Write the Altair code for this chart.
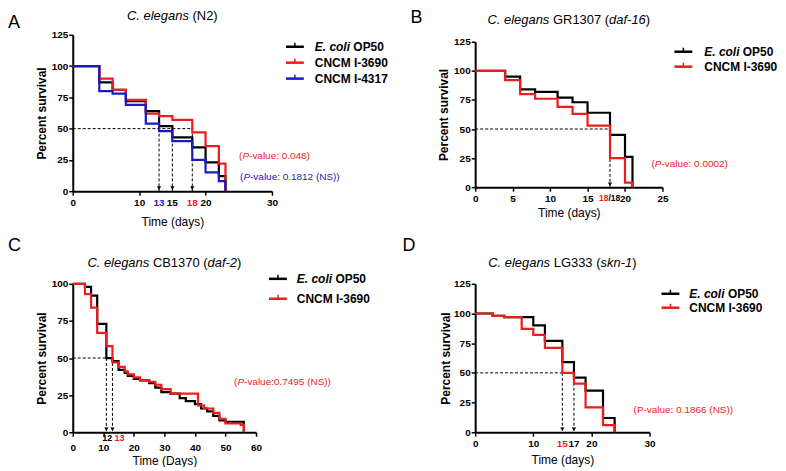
import altair as alt
import pandas as pd

# ---------------- data ----------------
# Panel A: C. elegans (N2)
A_days = [0, 4, 6, 8, 11, 13, 15, 18, 20, 22, 23]
A_op50 = [100, 87, 81, 72, 64, 52, 43, 35, 23, 12, 0]
A_i3690 = [100, 90, 81, 73, 62, 60, 57, 47, 36, 22, 0]
A_i4317 = [100, 80, 78, 69, 54, 48, 40, 25, 15, 8, 0]
A_median_days = [13, 15, 18]
A_median_labels = ["13", "15", "18"]
A_hline_end = 18
A_pvalues = ["-value: 0.048)", "-value: 0.1812 (NS))"]

# Panel B: C. elegans GR1307 (daf-16)
B_days = [0, 4, 6, 8, 11, 13, 15, 18, 20, 21]
B_op50 = [100, 95, 84, 82, 77, 73, 64, 45, 26, 0]
B_i3690 = [100, 92, 80, 76, 69, 63, 53, 25, 4, 0]
B_median_days = [18]
B_hline_end = 18
B_pvalue = "-value: 0.0002)"

# Panel C: C. elegans CB1370 (daf-2)
C_days_op50 = [0, 4, 6, 8, 11, 13, 15, 17, 18, 20, 22, 25, 27, 29, 32, 35, 37, 40, 42, 44, 46, 48, 50, 56]
C_op50 = [100, 98, 92, 73, 50, 48, 42, 40, 38, 36, 35, 33, 30, 27, 26, 23, 21, 19, 16, 14, 11, 8, 7, 0]
C_days_i3690 = [0, 4, 6, 8, 11, 13, 15, 17, 18, 20, 22, 25, 27, 29, 32, 41, 43, 46, 48, 50, 55, 56]
C_i3690 = [100, 93, 84, 67, 58, 47, 44, 41, 39, 37, 35, 34, 32, 29, 26, 18, 16, 13, 9, 6, 5, 0]
C_median_days = [11, 13]
C_median_labels = ["12", "13"]
C_hline_end = 11
C_pvalue = "-value:0.7495 (NS))"

# Panel D: C. elegans LG333 (skn-1)
D_days_op50 = [0, 3, 5, 10, 12, 15, 17, 19, 22, 24]
D_op50 = [100, 98, 97, 90, 77, 59, 46, 35, 12, 0]
D_days_i3690 = [0, 3, 5, 8, 10, 12, 15, 17, 19, 22, 24]
D_i3690 = [100, 98, 97, 87, 82, 71, 50, 41, 21, 6, 0]
D_median_days = [15, 17]
D_median_labels = ["15", "17"]
D_hline_end = 17
D_pvalue = "(P-value: 0.1866 (NS))"

MEDIAN_LEVEL = 50

# ---------------- style ----------------
FONT = "Liberation Sans, Arial, Helvetica, sans-serif"
BLACK = "#000000"
RED = "#ee1c1c"
BLUE = "#1a1abf"

REG = {' ': 278, '(': 333, ')': 333, '-': 333, '.': 278, '/': 278, ':': 278,
       'A': 667, 'B': 667, 'C': 722, 'D': 722, 'E': 667, 'G': 778, 'I': 278, 'L': 556,
       'M': 833, 'N': 722, 'O': 778, 'P': 667, 'R': 722, 'S': 667, 'T': 611,
       'a': 556, 'c': 500, 'd': 556, 'e': 556, 'f': 278, 'g': 556, 'i': 222, 'k': 500,
       'l': 222, 'n': 556, 'o': 556, 'r': 333, 's': 500, 't': 278, 'u': 556, 'v': 500, 'y': 500}
BOLD = {' ': 278, '(': 333, ')': 333, '-': 333, '.': 278, '/': 278, ':': 333,
        'C': 722, 'E': 667, 'I': 278, 'M': 833, 'N': 722, 'O': 778, 'P': 667,
        'c': 556, 'e': 556, 'i': 278, 'l': 278, 'o': 611}

ONE = pd.DataFrame({"k": [0]})


def txt(text, x, y, size, color=BLACK, italic=False, weight="normal", align="left"):
    return alt.Chart(pd.DataFrame({"label": [text]})).mark_text(
        font=FONT, fontSize=size, color=color,
        fontStyle="italic" if italic else "normal", fontWeight=weight,
        align=align, baseline="middle").encode(
        x=alt.value(x), y=alt.value(y), text="label:N")


def rich(pieces, x, y, size, color=BLACK, weight="normal", align="left"):
    tbl = BOLD if weight == "bold" else REG
    ws = [sum(tbl.get(ch, 556) for ch in p) * size / 1000 for p, _ in pieces]
    cur = x - sum(ws) / 2 if align == "center" else x
    out = []
    for (p, it), w in zip(pieces, ws):
        if p.strip():
            out.append(txt(p, cur, y, size, color, it, weight))
        cur += w
    return out


def legend_entry(x0, y, color, pieces, text_x, size=12):
    line = alt.Chart(ONE).mark_rule(color=color, strokeWidth=2.5).encode(
        x=alt.value(x0), x2=alt.value(x0 + 18), y=alt.value(y))
    tick = alt.Chart(ONE).mark_rule(color=color, strokeWidth=1.5).encode(
        x=alt.value(x0 + 9), y=alt.value(y - 4), y2=alt.value(y))
    return [line, tick] + rich(pieces, text_x, y, size, weight="bold")


def x_enc(domain, values, title, pad, lpad=2):
    return alt.X("t:Q", scale=alt.Scale(domain=domain, nice=False),
                 axis=alt.Axis(values=values, title=title, format="d", grid=False,
                               domainColor=BLACK, domainWidth=2, tickColor=BLACK, tickWidth=1.5,
                               tickSize=4, labelPadding=lpad, labelFlush=False,
                               labelFont=FONT, labelFontSize=10, labelFontWeight="bold",
                               labelColor=BLACK, titleFont=FONT, titleFontSize=12,
                               titleFontWeight="normal", titleColor=BLACK, titlePadding=pad))


def y_enc(domain, values, rng=None, pad=3):
    sc = alt.Scale(domain=domain, nice=False, range=rng) if rng else alt.Scale(domain=domain, nice=False)
    return alt.Y("s:Q", scale=sc,
                 axis=alt.Axis(values=values, title="Percent survival", format="d", grid=False,
                               domainColor=BLACK, domainWidth=2, tickColor=BLACK, tickWidth=1.5,
                               tickSize=4, labelPadding=1, labelFlush=False,
                               labelFont=FONT, labelFontSize=10, labelFontWeight="bold",
                               labelColor=BLACK, titleFont=FONT, titleFontSize=12,
                               titleFontWeight="bold", titleColor=BLACK, titlePadding=pad))


def step(days, surv, color, X, Y):
    df = pd.DataFrame({"t": days, "s": surv})
    return alt.Chart(df).mark_line(interpolate="step-after", color=color,
                                   strokeWidth=2.2).encode(x=X, y=Y)


def median_marks(meds, hend, X, Y):
    v = pd.DataFrame({"t": meds, "s": [MEDIAN_LEVEL] * len(meds), "s2": [0] * len(meds)})
    h = pd.DataFrame({"t": [0], "t2": [hend], "s": [MEDIAN_LEVEL]})
    a = pd.DataFrame({"t": meds, "s": [0] * len(meds)})
    dash = dict(color=BLACK, strokeWidth=1, strokeDash=[3, 2])
    vr = alt.Chart(v).mark_rule(**dash).encode(x=X, y=Y, y2=alt.Y2("s2"))
    hr = alt.Chart(h).mark_rule(**dash).encode(x=X, x2=alt.X2("t2"), y=Y)
    ar = alt.Chart(a).mark_point(shape="triangle-down", filled=True, size=18, color=BLACK,
                                 opacity=1, yOffset=-3).encode(x=X, y=Y)
    return [hr, vr, ar]


def axis_label(day, text, color, X, y, size=10, dx=0, align="center"):
    return alt.Chart(pd.DataFrame({"t": [day], "label": [text]})).mark_text(
        font=FONT, fontSize=size, fontWeight="bold", color=color, align=align,
        baseline="middle", dx=dx).encode(x=X, y=alt.value(y), text="label:N")


# ---------------- Panel A ----------------
WA, HA = 200, 157
XA = x_enc([0, 30], [0, 10, 20, 30], "Time (days)", 9)
YA = y_enc([0, 125], [0, 25, 50, 75, 100, 125])
layers = median_marks(A_median_days, A_hline_end, XA, YA)
layers += [step(A_days, A_op50, BLACK, XA, YA), step(A_days, A_i3690, RED, XA, YA),
           step(A_days, A_i4317, BLUE, XA, YA)]
for d, lab, col in zip(A_median_days, A_median_labels, [BLUE, BLACK, RED]):
    layers.append(axis_label(d, lab, col, XA, HA + 12))
layers.append(txt("A", -65, -12, 18))
layers += rich([("C. elegans", True), (" ", False), ("(N2)", False)], WA / 2, -19, 13, align="center")
layers += legend_entry(214, 12, BLACK, [("E. coli", True), (" ", False), ("OP50", False)], 243)
layers += legend_entry(214, 28, RED, [("CNCM I-3690", False)], 243)
layers += legend_entry(214, 44, BLUE, [("CNCM I-4317", False)], 243)
layers += rich([("(", False), ("P", True), (A_pvalues[0], False)], 167, 122, 10, color=RED)
layers += rich([("(", False), ("P", True), (A_pvalues[1], False)], 168, 143, 10, color=BLUE)
panelA = alt.layer(*layers).properties(width=WA, height=HA)

# ---------------- Panel B ----------------
WB, HB = 188, 153
XB = x_enc([0, 25], [0, 5, 10, 15, 20, 25], "Time (days)", 4)
YB = y_enc([0, 125], [0, 25, 50, 75, 100, 125], rng=[HB, 7])
layers = median_marks(B_median_days, B_hline_end, XB, YB)
layers += [step(B_days, B_op50, BLACK, XB, YB), step(B_days, B_i3690, RED, XB, YB)]
layers.append(axis_label(B_median_days[0], "18", RED, XB, HB + 11, size=8.5, dx=-1.5, align="right"))
layers.append(axis_label(B_median_days[0], "/18", BLACK, XB, HB + 11, size=8.5, dx=-1.5, align="left"))
layers.append(txt("B", -65, -17, 18))
layers += rich([("C. elegans", True), (" ", False), ("GR1307", False), (" ", False), ("(", False),
                ("daf-16", True), (")", False)], WB / 2, -15, 13, align="center")
layers += legend_entry(200, 17, BLACK, [("E. coli", True), (" ", False), ("OP50", False)], 230)
layers += legend_entry(200, 32, RED, [("CNCM I-3690", False)], 230)
layers += rich([("(", False), ("P", True), (B_pvalue, False)], 177, 130, 10, color=RED)
panelB = alt.layer(*layers).properties(width=WB, height=HB)

# ---------------- Panel C ----------------
WC, HC = 184, 149
XC = x_enc([0, 60], [0, 10, 20, 30, 40, 50, 60], "Time (Days)", 3, lpad=6)
YC = y_enc([0, 100], [0, 25, 50, 75, 100])
layers = median_marks(C_median_days, C_hline_end, XC, YC)
layers += [step(C_days_op50, C_op50, BLACK, XC, YC), step(C_days_i3690, C_i3690, RED, XC, YC)]
layers.append(axis_label(C_median_days[0], C_median_labels[0], BLACK, XC, HC + 6, size=9, dx=1))
layers.append(axis_label(C_median_days[1], C_median_labels[1], RED, XC, HC + 6, size=9, dx=7))
layers.append(txt("C", -65, -38, 18))
layers += rich([("C. elegans", True), (" ", False), ("CB1370", False), (" ", False), ("(", False),
                ("daf-2", True), (")", False)], WC / 2, -21, 13, align="center")
layers += legend_entry(197, -5, BLACK, [("E. coli", True), (" ", False), ("OP50", False)], 225)
layers += legend_entry(197, 15, RED, [("CNCM I-3690", False)], 225)
layers += rich([("(", False), ("P", True), (C_pvalue, False)], 162, 99, 10, color=RED)
panelC = alt.layer(*layers).properties(width=WC, height=HC)

# ---------------- Panel D ----------------
WD, HD = 175, 149
XD = x_enc([0, 30], [0, 10, 20, 30], "Time (days)", 6)
YD = y_enc([0, 125], [0, 25, 50, 75, 100, 125], pad=1)
layers = median_marks(D_median_days, D_hline_end, XD, YD)
layers += [step(D_days_op50, D_op50, BLACK, XD, YD), step(D_days_i3690, D_i3690, RED, XD, YD)]
for d, lab, col in zip(D_median_days, D_median_labels, [RED, BLACK]):
    layers.append(axis_label(d, lab, col, XD, HD + 12))
layers.append(txt("D", -73, -38, 18))
layers += rich([("C. elegans", True), (" ", False), ("LG333", False), (" ", False), ("(", False),
                ("skn-1", True), (")", False)], WD / 2, -21, 13, align="center")
layers += legend_entry(187, 10, BLACK, [("E. coli", True), (" ", False), ("OP50", False)], 215)
layers += legend_entry(187, 24, RED, [("CNCM I-3690", False)], 215)
layers.append(txt(D_pvalue, 159, 127, 10, color=RED))
panelD = alt.layer(*layers).properties(width=WD, height=HD)

chart = alt.concat(panelA, panelB, panelC, panelD, columns=2,
                   spacing={"row": 93, "column": 204}, bounds="flush").properties(
    padding=0).configure_view(stroke=None)

chart.save("out.html", embed_options={"renderer": "svg", "actions": False})
